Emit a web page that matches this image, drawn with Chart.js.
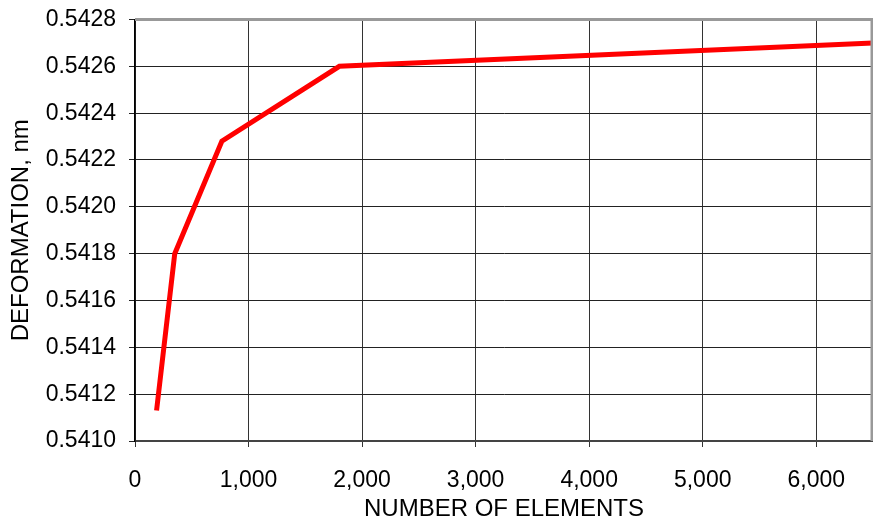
<!DOCTYPE html>
<html>
<head>
<meta charset="utf-8">
<script src="https://cdn.jsdelivr.net/npm/chart.js@4.4.0/dist/chart.umd.min.js"></script>
<style>
  html, body { margin: 0; padding: 0; background: #fff; }
  #wrap { width: 873px; height: 521px; }
</style>
</head>
<body>
<div id="wrap"><canvas id="grafik"></canvas></div>
<script>
// values
const elements = [190, 350, 765, 1800, 6500];
const deformation = [0.54113, 0.5418, 0.54228, 0.5426, 0.5427];
const xTicks = [0, 1000, 2000, 3000, 4000, 5000, 6000];
const yTicks = [0.541, 0.5412, 0.5414, 0.5416, 0.5418, 0.542, 0.5422, 0.5424, 0.5426, 0.5428];

const family = "'Liberation Sans', Arial, sans-serif";
const tickFont = { family: family, size: 23 };
const titleFont = { family: family, size: 24, lineHeight: 1 };

// top and right edges of the plot area are gray
const frame = {
  id: "frame",
  afterDraw(chart) {
    const a = chart.chartArea, c = chart.ctx;
    c.save();
    c.strokeStyle = "#999";
    c.lineWidth = 3;
    c.beginPath();
    c.moveTo(a.left, a.top);
    c.lineTo(a.right - 1, a.top);
    c.lineTo(a.right - 1, a.bottom);
    c.stroke();
    c.restore();
  }
};

new Chart(document.getElementById("grafik"), {
  type: "line",
  data: {
    datasets: [{
      data: elements.map((x, i) => ({ x: x, y: deformation[i] })),
      borderColor: "#ff0000",
      borderWidth: 5,
      pointRadius: 0,
      fill: false,
      tension: 0
    }]
  },
  options: {
    responsive: true,
    maintainAspectRatio: false,
    animation: false,
    layout: { padding: 0 },
    plugins: { legend: { display: false }, tooltip: { enabled: false } },
    scales: {
      x: {
        type: "linear",
        min: 0,
        max: 6500,
        afterBuildTicks: s => { s.ticks = xTicks.map(v => ({ value: v })); },
        afterFit: s => { s.height = 80; s.paddingRight = 0; },
        ticks: {
          color: "#000",
          font: tickFont,
          padding: 20,
          maxRotation: 0,
          callback: v => v.toLocaleString("en-US")
        },
        grid: { color: "#333", lineWidth: 1, tickLength: 6 },
        border: { color: "#444", width: 2 },
        title: { display: true, text: "NUMBER OF ELEMENTS", color: "#000", font: titleFont, padding: { top: 0, bottom: 0 } }
      },
      y: {
        min: 0.541,
        max: 0.5428,
        afterBuildTicks: s => { s.ticks = yTicks.map(v => ({ value: v })); },
        afterFit: s => { s.width = 135; s.paddingTop = 19.5; s.paddingBottom = 0; },
        ticks: {
          color: "#000",
          font: tickFont,
          padding: 13,
          callback: v => v.toFixed(4)
        },
        grid: { color: "#222", lineWidth: 1, tickLength: 6 },
        border: { color: "#000", width: 1.5 },
        title: { display: true, text: "DEFORMATION, nm", color: "#000", font: { family: family, size: 24 }, padding: { top: 7, bottom: 0 } }
      }
    }
  },
  plugins: [frame]
});
</script>
</body>
</html>
